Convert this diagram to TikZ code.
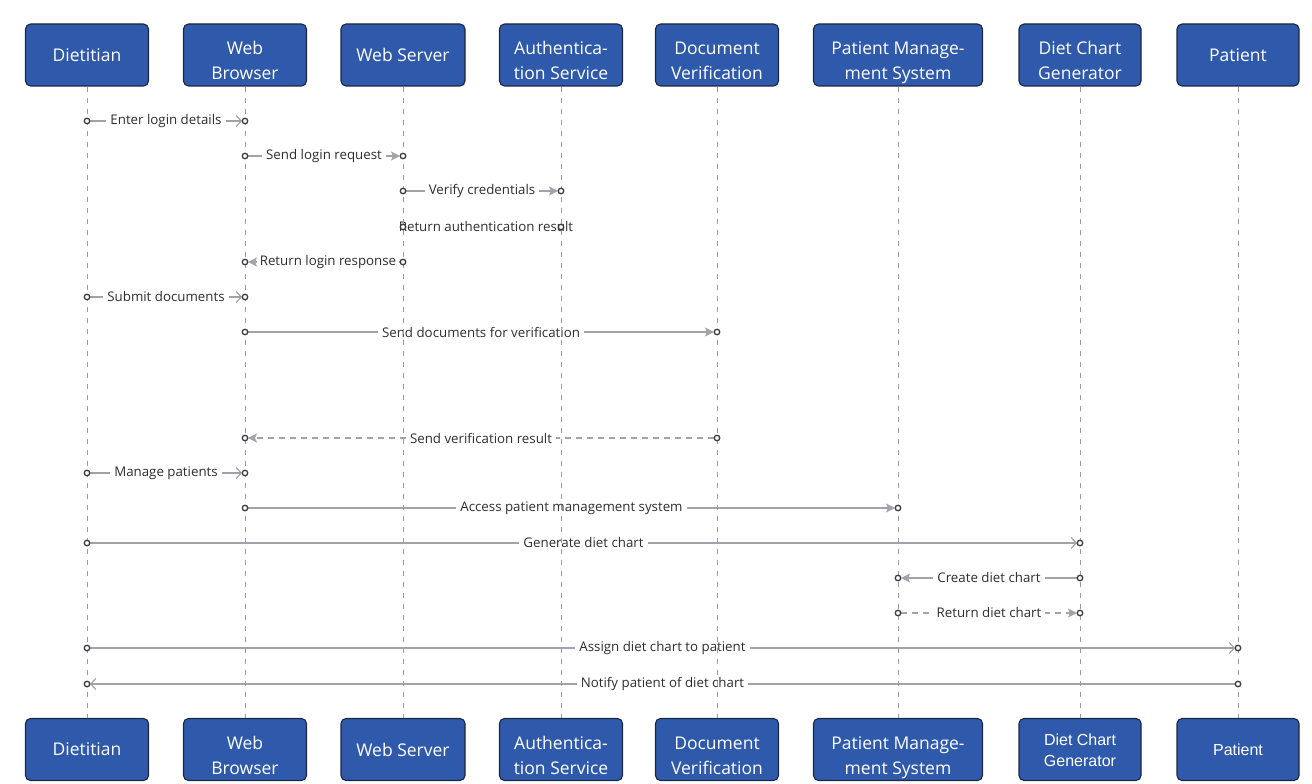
\documentclass[tikz,border=0pt]{standalone}
\usepackage{fontspec}
\setmainfont{Open Sans}
\newfontfamily\altsans{Liberation Sans}
\usetikzlibrary{arrows.meta}
\definecolor{boxblue}{HTML}{2F5AAB}
\definecolor{boxedge}{HTML}{1B2640}
\definecolor{wire}{HTML}{A2A2AA}
\definecolor{lane}{HTML}{9C9CA0}
\definecolor{ink}{HTML}{2E2E2E}
\definecolor{dotc}{HTML}{3A3A40}
\begin{document}
\begin{tikzpicture}[x=1pt,y=-1pt,
  actor/.style={draw=boxedge, line width=1.1pt, fill=boxblue, rounded corners=5pt,
    minimum height=62pt, inner sep=0pt},
  capt/.style={text=white, align=center, inner sep=0pt,
    font=\fontsize{17.5}{25}\selectfont},
  captalt/.style={capt, font=\altsans\fontsize{16}{21}\selectfont},
  lifeline/.style={draw=lane, line width=0.9pt, dash pattern=on 5pt off 6pt},
  msg/.style={draw=wire, line width=1.3pt, shorten <=3pt, shorten >=3pt},
  reply/.style={msg, dash pattern=on 6pt off 5pt},
  opentip/.style={-{Straight Barb[length=5pt,width=11pt,line width=1.2pt]}},
  filltip/.style={-{Stealth[length=9pt,width=9pt,inset=2pt]}},
  lbl/.style={fill=white, text=ink, inner xsep=4pt, inner ysep=1pt,
    font=\fontsize{13.3}{15}\selectfont},
  enddot/.style={circle, draw=dotc, fill=white, line width=1.3pt, inner sep=0pt,
    minimum size=5.5pt}]
\useasboundingbox (0,0) rectangle (1312,784);

% participants, top row
\node[actor, minimum width=123pt, label={[capt]center:Dietitian}] (dt) at (87,55) {};
\node[actor, minimum width=123pt, label={[capt, yshift=-5.5pt]center:{Web\\Browser}}] (wb) at (245,55) {};
\node[actor, minimum width=124pt, label={[capt]center:Web Server}] (ws) at (403,55) {};
\node[actor, minimum width=123pt, label={[capt, yshift=-5.5pt]center:{Authentica-\\tion Service}}] (au) at (561,55) {};
\node[actor, minimum width=123pt, label={[capt, yshift=-5.5pt]center:{Document\\Verification}}] (dv) at (717,55) {};
\node[actor, minimum width=169pt, label={[capt, yshift=-7.5pt]center:{Patient Manage-\\ment System}}] (pm) at (898,55) {};
\node[actor, minimum width=122pt, label={[capt, yshift=-5.5pt]center:{Diet Chart\\Generator}}] (dc) at (1080,55) {};
\node[actor, minimum width=122pt, label={[capt]center:Patient}] (pt) at (1238,55) {};

% participants, bottom row
\node[actor, minimum width=123pt, label={[capt]center:Dietitian}] (bdt) at (87,749.5) {};
\node[actor, minimum width=123pt, label={[capt, yshift=-6pt]center:{Web\\Browser}}] (bwb) at (245,749.5) {};
\node[actor, minimum width=124pt, label={[capt]center:Web Server}] (bws) at (403,749.5) {};
\node[actor, minimum width=123pt, label={[capt, yshift=-6pt]center:{Authentica-\\tion Service}}] (bau) at (561,749.5) {};
\node[actor, minimum width=123pt, label={[capt, yshift=-6pt]center:{Document\\Verification}}] (bdv) at (717,749.5) {};
\node[actor, minimum width=169pt, label={[capt, yshift=-8pt]center:{Patient Manage-\\ment System}}] (bpm) at (898,749.5) {};
\node[actor, minimum width=122pt, label={[captalt, yshift=-1pt]center:{Diet Chart\\Generator}}] (bdc) at (1080,749.5) {};
\node[actor, minimum width=122pt, label={[captalt]center:Patient}] (bpt) at (1238,749.5) {};

% messages
\draw[msg, opentip] (dt |- 0,121) -- node[lbl] {Enter login details} (wb |- 0,121);
\draw[msg, filltip] (wb |- 0,156) -- node[lbl] {Send login request} (ws |- 0,156);
\draw[msg, filltip] (ws |- 0,191) -- node[lbl] {Verify credentials} (au |- 0,191);
\draw[msg, filltip] (au |- 0,227) -- node[lbl, xshift=4pt] {Return authentication result} (ws |- 0,227);
\draw[msg, filltip] (ws |- 0,262) -- node[lbl, xshift=4pt, inner xsep=2.5pt] {Return login response} (wb |- 0,262);
\draw[msg, opentip] (dt |- 0,297) -- node[lbl] {Submit documents} (wb |- 0,297);
\draw[msg, filltip] (wb |- 0,332) -- node[lbl] {Send documents for verification} (dv |- 0,332);
\draw[reply, filltip] (dv |- 0,438) -- node[lbl] {Send verification result} (wb |- 0,438);
\draw[msg, opentip] (dt |- 0,473) -- node[lbl] {Manage patients} (wb |- 0,473);
\draw[msg, filltip] (wb |- 0,508) -- node[lbl] {Access patient management system} (pm |- 0,508);
\draw[msg, opentip] (dt |- 0,543) -- node[lbl] {Generate diet chart} (dc |- 0,543);
\draw[msg, filltip] (dc |- 0,578) -- node[lbl] {Create diet chart} (pm |- 0,578);
\draw[reply, filltip] (pm |- 0,613) -- node[lbl] {Return diet chart} (dc |- 0,613);
\draw[msg, opentip] (dt |- 0,648) -- node[lbl] {Assign diet chart to patient} (pt |- 0,648);
\draw[msg, opentip] (pt |- 0,684) -- node[lbl] {Notify patient of diet chart} (dt |- 0,684);

% lifelines
\foreach \a/\b in {dt/bdt, wb/bwb, ws/bws, au/bau, dv/bdv, pm/bpm, dc/bdc, pt/bpt}
  \draw[lifeline] (\a.south) -- (\b.north);

% activation points at both ends of every message
\foreach \n/\y in {dt/121, wb/121, wb/156, ws/156, ws/191, au/191, au/227, ws/227,
    ws/262, wb/262, dt/297, wb/297, wb/332, dv/332, dv/438, wb/438, dt/473, wb/473,
    wb/508, pm/508, dt/543, dc/543, dc/578, pm/578, pm/613, dc/613, dt/648, pt/648,
    pt/684, dt/684}
  \node[enddot] at (\n |- 0,\y) {};
\end{tikzpicture}
\end{document}
